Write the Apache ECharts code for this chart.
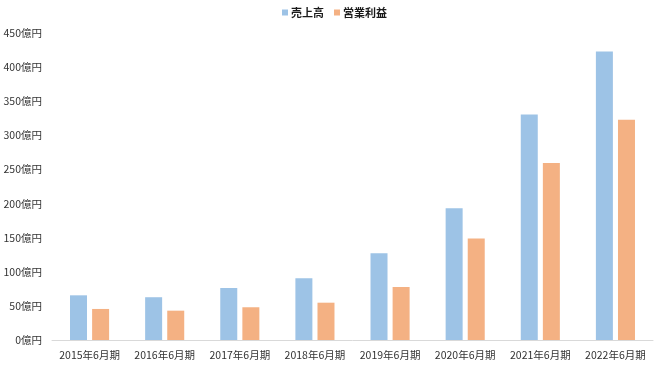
<!DOCTYPE html>
<html>
<head>
<meta charset="utf-8">
<script src="https://cdn.jsdelivr.net/npm/echarts@6/dist/echarts.min.js"></script>
<style>
html,body{margin:0;padding:0;background:#fff;}
#chart{width:660px;height:371px;}
</style>
</head>
<body>
<div id="chart"></div>
<script>
const categories = ['2015年6月期','2016年6月期','2017年6月期','2018年6月期','2019年6月期','2020年6月期','2021年6月期','2022年6月期'];
const sales = [65.5, 62.7, 76.3, 90.5, 127.2, 193.3, 330.6, 423];
const operatingProfit = [45.5, 43, 48, 54.7, 77.8, 148.6, 259.3, 322.8];
const seriesNames = ['売上高','営業利益'];

const font = '"Noto Sans CJK JP", sans-serif';
const chart = echarts.init(document.getElementById('chart'), null, {renderer:'canvas'});
chart.setOption({
  animation:false,
  backgroundColor:'#ffffff',
  legend:{
    top:2, left:277,
    itemWidth:6, itemHeight:6, itemGap:10,
    icon:'rect',
    textStyle:{fontFamily:font, fontSize:11, fontWeight:'bold', color:'#1a1a1a', padding:[0,0,0,-2]},
    data:seriesNames
  },
  grid:{left:52, right:7, top:33, bottom:31, containLabel:false},
  xAxis:{
    type:'category', data:categories,
    axisLine:{show:true, lineStyle:{color:'#d9d9d9', width:1}},
    axisTick:{show:false},
    axisLabel:{fontFamily:font, fontSize:10.5, color:'#333333', margin:10, interval:0}
  },
  yAxis:{
    type:'value', min:0, max:450, interval:50,
    axisLine:{show:false}, axisTick:{show:false},
    splitLine:{show:false},
    axisLabel:{fontFamily:font, fontSize:10.5, color:'#333333', margin:10, formatter:'{value}億円'}
  },
  series:[
    {name:seriesNames[0], type:'bar', data:sales, barWidth:17, barGap:'30%', itemStyle:{color:'#9DC3E6'}},
    {name:seriesNames[1], type:'bar', data:operatingProfit, barWidth:17, barGap:'30%', itemStyle:{color:'#F4B183'}}
  ]
});
</script>
</body>
</html>
